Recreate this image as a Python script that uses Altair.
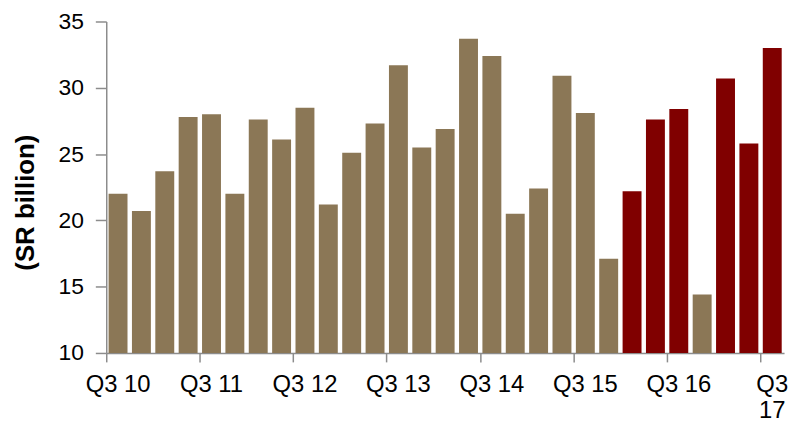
import altair as alt
import pandas as pd

quarters = [
    "Q3 10", "Q4 10", "Q1 11", "Q2 11", "Q3 11", "Q4 11", "Q1 12", "Q2 12",
    "Q3 12", "Q4 12", "Q1 13", "Q2 13", "Q3 13", "Q4 13", "Q1 14", "Q2 14",
    "Q3 14", "Q4 14", "Q1 15", "Q2 15", "Q3 15", "Q4 15", "Q1 16", "Q2 16",
    "Q3 16", "Q4 16", "Q1 17", "Q2 17", "Q3 17",
]
values = [
    22.0, 20.7, 23.7, 27.8, 28.0, 22.0, 27.6, 26.1,
    28.5, 21.2, 25.1, 27.3, 31.7, 25.5, 26.9, 33.7,
    32.4, 20.5, 22.4, 30.9, 28.1, 17.1, 22.2, 27.6,
    28.4, 14.4, 30.7, 25.8, 33.0,
]
groups = ["base"] * 22 + ["highlight", "highlight", "highlight", "base",
                          "highlight", "highlight", "highlight"]
tick_labels = ["Q3 10", "Q3 11", "Q3 12", "Q3 13", "Q3 14", "Q3 15", "Q3 16", "Q3 17"]

df = pd.DataFrame({"quarter": quarters, "value": values, "group": groups})

FONT = "Liberation Sans"
AXIS_GREY = "#8c8c8c"

x_scale = alt.Scale(paddingInner=0.19, paddingOuter=0.1)
y_scale = alt.Scale(domain=[10, 35], zero=False, nice=False)

y_axis = alt.Axis(
    title="(SR billion)",
    values=[10, 15, 20, 25, 30, 35],
    grid=False,
    labelFontSize=23,
    labelFont=FONT,
    labelColor="#000000",
    labelPadding=12,
    tickSize=11,
    tickColor=AXIS_GREY,
    tickWidth=1.5,
    domainColor=AXIS_GREY,
    domainWidth=1.5,
    titleFont=FONT,
    titleFontSize=26,
    titleFontWeight="bold",
    titleColor="#000000",
    titleAngle=270,
    titleAlign="center",
    titleBaseline="middle",
    titleX=-81,
    titleY=182,
)

bars = alt.Chart(df).mark_bar().encode(
    x=alt.X(
        "quarter:N",
        sort=quarters,
        scale=x_scale,
        axis=alt.Axis(
            title=None,
            orient="bottom",
            values=tick_labels,
            ticks=False,
            labelExpr="datum.value == 'Q3 17' ? ['Q3', '17'] : datum.value",
            labelAngle=0,
            labelFontSize=24,
            labelFont=FONT,
            labelColor="#000000",
            labelPadding=20,
            labelLineHeight=26,
            labelBaseline="top",
            domainColor=AXIS_GREY,
            domainWidth=1.5,
            labelOverlap=False,
            labelBound=False,
        ),
    ),
    y=alt.Y("value:Q", scale=y_scale, axis=y_axis),
    y2=alt.datum(10),
    color=alt.Color(
        "group:N",
        scale=alt.Scale(domain=["base", "highlight"], range=["#8b7756", "#800000"]),
        legend=None,
    ),
)

ticks_layer = alt.Chart(df).mark_bar(opacity=0).encode(
    x=alt.X(
        "quarter:N",
        sort=quarters,
        scale=x_scale,
        axis=alt.Axis(
            title=None,
            orient="bottom",
            values=tick_labels,
            bandPosition=-0.1,
            labels=False,
            domain=False,
            tickSize=9,
            tickColor=AXIS_GREY,
            tickWidth=1.5,
        ),
    ),
)

chart = alt.layer(bars, ticks_layer).resolve_axis(x="independent").properties(
    width=683,
    height=334,
    autosize=alt.AutoSizeParams(type="none"),
    padding={"left": 99, "top": 12, "right": 6, "bottom": 72},
).configure_view(stroke=None)

chart.save("out.html", embed_options={"renderer": "svg", "actions": False})
